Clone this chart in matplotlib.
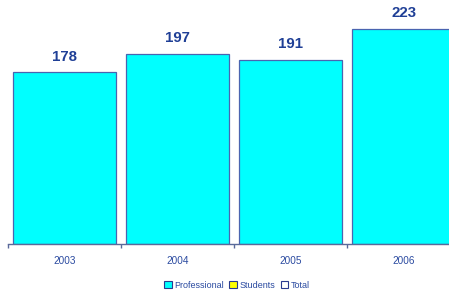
import matplotlib
matplotlib.use("Agg")
import matplotlib.pyplot as plt
from matplotlib.patches import Patch

years = ["2003", "2004", "2005", "2006"]
professional = [178, 197, 191, 223]
legend_labels = ["Professional", "Students", "Total"]
legend_colors = ["#00ffff", "#ffff00", "#ffffff"]

plt.rcParams["font.family"] = ["Liberation Sans", "DejaVu Sans"]
BLUE = "#2a4aa0"
fig = plt.figure(figsize=(4.49, 2.94), dpi=100)
ax = fig.add_axes([8 / 449, 50 / 294, 452 / 449, 241 / 294])

x = range(len(years))
ax.bar(x, professional, width=0.92, color="#00ffff", edgecolor="#4a64b0", linewidth=0.9)
for xi, v in zip(x, professional):
    ax.text(xi, v + 9, str(v), ha="center", va="bottom", fontsize=10.8,
            fontweight="bold", color="#1f3f96")

ax.set_xlim(-0.5, 3.5)
ax.set_ylim(0, 250)
for s in ["top", "right", "left"]:
    ax.spines[s].set_visible(False)
ax.spines["bottom"].set_color("#5a6a9a")
ax.spines["bottom"].set_linewidth(1.0)
ax.set_yticks([])
ax.set_xticks([i - 0.5 for i in range(len(years) + 1)], minor=False)
ax.set_xticklabels([])
ax.tick_params(axis="x", length=3, color="#5a6a9a", width=1.0)
ax.set_xticks(list(x), minor=True)
ax.set_xticklabels(years, minor=True)
ax.tick_params(axis="x", which="minor", length=0, pad=9, labelsize=7.2, labelcolor=BLUE)

handles = [Patch(facecolor=c, edgecolor="#2a3a90", linewidth=0.8) for c in legend_colors]
fig.legend(handles, legend_labels, loc="center", bbox_to_anchor=(237 / 449, 1 - 285 / 294),
           ncol=3, frameon=False, fontsize=6.5, labelcolor=BLUE, handlelength=0.8,
           handleheight=0.8, handletextpad=0.3, columnspacing=0.6)

fig.savefig("out.png", dpi=100)
